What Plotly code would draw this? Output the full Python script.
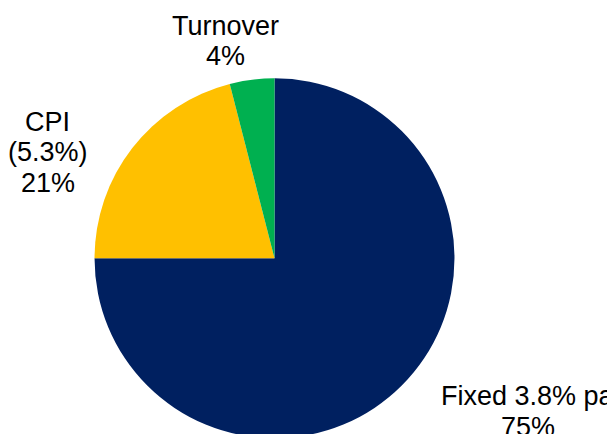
import plotly.graph_objects as go

# Data
categories = ["Fixed 3.8% pa", "CPI (5.3%)", "Turnover"]
label_lines = [["Fixed 3.8% pa"], ["CPI", "(5.3%)"], ["Turnover"]]
values = [75, 21, 4]
colors = ["#002060", "#FFC000", "#00B050"]

W, H = 615, 434
OFF = 8  # page body margin offset

fig = go.Figure()
fig.add_trace(go.Pie(
    labels=categories,
    values=values,
    sort=False,
    direction="clockwise",
    rotation=0,
    marker=dict(colors=colors, line=dict(width=0)),
    textinfo="none",
    hoverinfo="label+percent",
    showlegend=False,
    domain=dict(x=[0.1407, 0.7260], y=[0.0085, 0.838]),
))

# label placement: centre of label block in window pixels
label_pos = [(527.5, 411.5), (47.5, 152), (225, 41)]
line_gap = 30.5
total = sum(values)
for lines, v, (px, py) in zip(label_lines, values, label_pos):
    all_lines = lines + [f"{round(100 * v / total)}%"]
    n = len(all_lines)
    for i, ln in enumerate(all_lines):
        cy = py + (i - (n - 1) / 2) * line_gap
        fig.add_annotation(
            text=ln,
            x=(px - OFF) / W, y=1 - (cy - OFF) / H, xref="paper", yref="paper",
            xanchor="center", yanchor="middle", showarrow=False,
            font=dict(family="Liberation Sans, Arial, sans-serif", size=27, color="#000000"),
        )

fig.update_layout(
    width=W, height=H,
    margin=dict(l=0, r=0, t=0, b=0),
    paper_bgcolor="white",
    plot_bgcolor="white",
)

fig.write_html("out.html")
